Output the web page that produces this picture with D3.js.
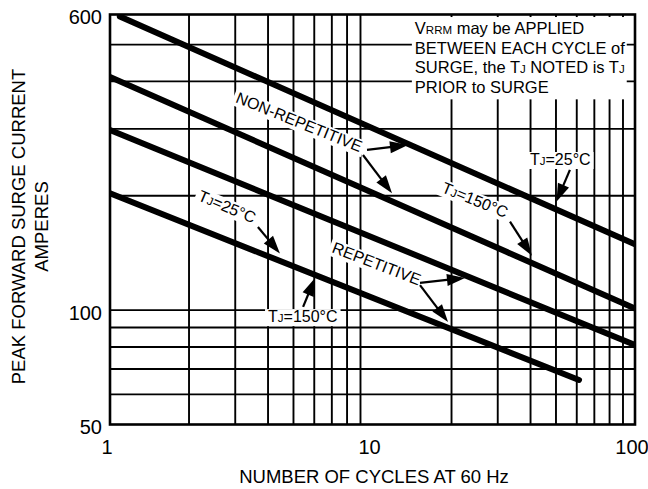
<!DOCTYPE html>
<html>
<head>
<meta charset="utf-8">
<script src="https://cdn.jsdelivr.net/npm/d3@7"></script>
<style>
  html, body { margin: 0; padding: 0; background: #fff; }
  svg { display: block; }
  text { font-family: "Liberation Sans", Arial, Helvetica, sans-serif; fill: #000; }
</style>
</head>
<body>
<svg id="chart" width="648" height="489"></svg>
<script>
// Peak forward surge current (A) versus number of cycles at 60 Hz, log-log.
const nonRep25Cycles  = [1.09, 100];
const nonRep25Amps    = [593, 149];
const nonRep150Cycles = [1, 100];
const nonRep150Amps   = [411, 101];
const rep25Cycles     = [1, 100];
const rep25Amps       = [298, 81];
const rep150Cycles    = [1, 61.2];
const rep150Amps      = [203, 65.5];

const xTickValues = [1, 10, 100];
const xTickLabels = ["1", "10", "100"];
const yTickValues = [50, 100, 600];
const yTickLabels = ["50", "100", "600"];
const xGridValues = [2, 3, 4, 5, 6, 7, 8, 9, 20, 30, 40, 50, 60, 70, 80, 90];
const yGridValues = [60, 70, 80, 90, 100, 200, 300, 400, 500];

const xTitle = "NUMBER OF CYCLES AT 60 Hz";
const yTitleLines = ["PEAK FORWARD SURGE CURRENT", "AMPERES"];

const noteLines = [
  [{ t: "V" }, { t: "RRM", sub: true }, { t: " may be APPLIED" }],
  [{ t: "BETWEEN EACH CYCLE of" }],
  [{ t: "SURGE, the T" }, { t: "J", sub: true }, { t: " NOTED is T" }, { t: "J", sub: true }],
  [{ t: "PRIOR to SURGE" }]
];

// Curve labels: anchor given in (cycles, amps), baseline angle in degrees
const curveLabels = [
  { parts: [{ t: "NON-REPETITIVE" }], n: 2.99, a: 353, angle: 22 },
  { parts: [{ t: "T" }, { t: "J", sub: true }, { t: "=25°C" }], n: 39.8, a: 241, angle: 0 },
  { parts: [{ t: "T" }, { t: "J", sub: true }, { t: "=150°C" }], n: 18.2, a: 204.6, angle: 22 },
  { parts: [{ t: "T" }, { t: "J", sub: true }, { t: "=25°C" }], n: 2.145, a: 195, angle: 23 },
  { parts: [{ t: "REPETITIVE" }], n: 6.95, a: 142.2, angle: 21 },
  { parts: [{ t: "T" }, { t: "J", sub: true }, { t: "=150°C" }], n: 4.0, a: 93, angle: 0 }
];

// Leader arrows: tail and tip in (cycles, amps)
const arrows = [
  { from: [9.53, 264], to: [13.65, 272] },
  { from: [9.2, 256],  to: [11.87, 203] },
  { from: [56.5, 234], to: [50.2, 193] },
  { from: [33.4, 171], to: [40.5, 139] },
  { from: [3.66, 165.5], to: [4.44, 141] },
  { from: [5.44, 102], to: [6.04, 121.5] },
  { from: [15.17, 118], to: [22.5, 121.5] },
  { from: [15.17, 116.4], to: [19.4, 93] }
];

const series = [
  { cycles: nonRep25Cycles,  amps: nonRep25Amps },
  { cycles: nonRep150Cycles, amps: nonRep150Amps },
  { cycles: rep25Cycles,     amps: rep25Amps },
  { cycles: rep150Cycles,    amps: rep150Amps }
];

const W = 648, H = 489;
const margin = { left: 110, right: 13, top: 14.5, bottom: 64.5 };
const x = d3.scaleLog().domain([1, 100]).range([margin.left, W - margin.right]);
const y = d3.scaleLog().domain([50, 600]).range([H - margin.bottom, margin.top]);
const [x0, x1] = x.range();
const [y0, y1] = [y.range()[1], y.range()[0]];

const svg = d3.select("#chart");

svg.append("defs").append("clipPath").attr("id", "plot-clip")
  .append("rect").attr("x", x0).attr("y", y0).attr("width", x1 - x0).attr("height", y1 - y0);

// Grid
const grid = svg.append("g").attr("stroke", "#000").attr("stroke-width", 1.9);
grid.selectAll("line.v").data(xGridValues).join("line").attr("class", "v")
  .attr("x1", d => x(d)).attr("x2", d => x(d)).attr("y1", y0).attr("y2", y1);
grid.selectAll("line.h").data(yGridValues).join("line").attr("class", "h")
  .attr("y1", d => y(d)).attr("y2", d => y(d)).attr("x1", x0).attr("x2", x1);

const bgLayer = svg.append("g");
const curveLayer = svg.append("g").attr("clip-path", "url(#plot-clip)");
const frameLayer = svg.append("g");
const textLayer = svg.append("g");
const arrowLayer = svg.append("g");

function fillParts(textSel, parts, subSize) {
  parts.forEach(p => {
    const ts = textSel.append("tspan").text(p.t);
    if (p.sub) ts.attr("font-size", subSize);
  });
}

// Note box
const noteG = textLayer.append("g");
const noteX = x(14.5), noteY = y(533);
noteLines.forEach((parts, i) => {
  const t = noteG.append("text").attr("x", noteX).attr("y", noteY + i * 19.6).attr("font-size", 16.5);
  fillParts(t, parts, 11.5);
});
const nb = noteG.node().getBBox();
bgLayer.append("rect").attr("fill", "#fff")
  .attr("x", nb.x - 3).attr("y", nb.y - 2)
  .attr("width", nb.width + 4.5).attr("height", nb.height + 5.5);

// Curve labels with white backing
curveLabels.forEach(l => {
  const tr = `translate(${x(l.n)},${y(l.a)}) rotate(${l.angle})`;
  const g = textLayer.append("g").attr("transform", tr);
  const t = g.append("text").attr("font-size", 16);
  fillParts(t, l.parts, 11.5);
  const b = t.node().getBBox();
  bgLayer.append("rect").attr("transform", tr).attr("fill", "#fff")
    .attr("x", b.x - 3).attr("y", b.y + 1).attr("width", b.width + 6).attr("height", b.height);
});

// Curves
const line = d3.line().x(d => x(d[0])).y(d => y(d[1]));
curveLayer.selectAll("path").data(series).join("path")
  .attr("d", s => line(d3.zip(s.cycles, s.amps)))
  .attr("fill", "none").attr("stroke", "#000").attr("stroke-width", 6)
  .attr("stroke-linecap", "round");

// Frame
frameLayer.append("rect").attr("x", x0).attr("y", y0).attr("width", x1 - x0).attr("height", y1 - y0)
  .attr("fill", "none").attr("stroke", "#000").attr("stroke-width", 2.6);

// Arrows
arrows.forEach(a => {
  const fx = x(a.from[0]), fy = y(a.from[1]);
  const tx = x(a.to[0]), ty = y(a.to[1]);
  const dx = tx - fx, dy = ty - fy, len = Math.hypot(dx, dy);
  const ux = dx / len, uy = dy / len;
  const hl = 18, hw = 6;
  const bx = tx - ux * hl, by = ty - uy * hl;
  arrowLayer.append("line").attr("x1", fx).attr("y1", fy).attr("x2", bx + ux * 2).attr("y2", by + uy * 2)
    .attr("stroke", "#000").attr("stroke-width", 2.2);
  arrowLayer.append("path")
    .attr("d", `M${tx},${ty}L${bx - uy * hw},${by + ux * hw}L${bx + uy * hw},${by - ux * hw}Z`)
    .attr("fill", "#000");
});

// Tick labels
textLayer.selectAll("text.xt").data(xTickValues).join("text").attr("class", "xt")
  .attr("x", d => x(d) - 3).attr("y", y1 + 29.5).attr("text-anchor", "middle")
  .attr("font-size", 20).text((d, i) => xTickLabels[i]);
textLayer.selectAll("text.yt").data(yTickValues).join("text").attr("class", "yt")
  .attr("x", x0 - 8).attr("y", d => y(d) + 9.5).attr("text-anchor", "end")
  .attr("font-size", 20).text((d, i) => yTickLabels[i]);

// Axis titles
textLayer.append("text").attr("x", 374).attr("y", 483).attr("text-anchor", "middle")
  .attr("font-size", 18.5).text(xTitle);
yTitleLines.forEach((s, i) => {
  textLayer.append("text")
    .attr("transform", `translate(${25 + i * 23},226.5) rotate(-90)`)
    .attr("text-anchor", "middle").attr("font-size", 18.5).text(s);
});
</script>
</body>
</html>
